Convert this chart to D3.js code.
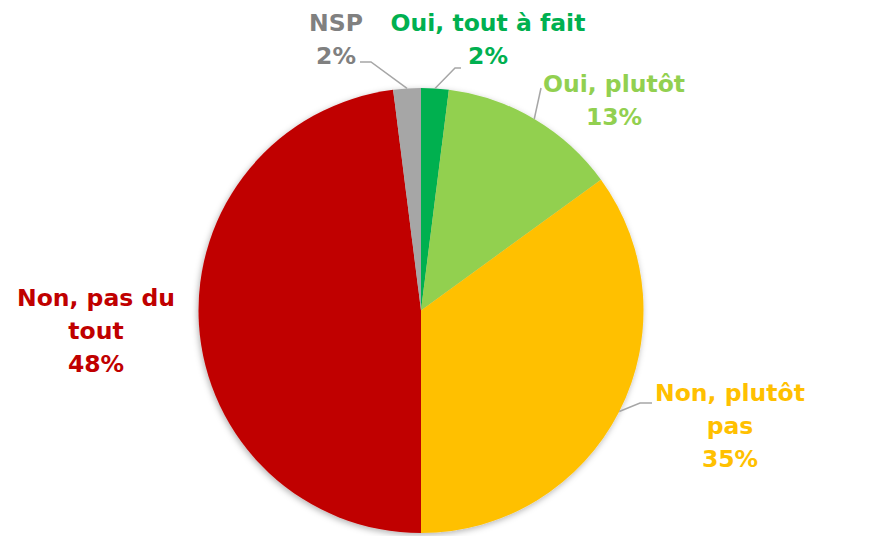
<!DOCTYPE html>
<html><head><meta charset="utf-8">
<script src="https://cdn.jsdelivr.net/npm/d3@7"></script>
<style>html,body{margin:0;padding:0;background:#fff;}svg{display:block;}</style>
</head><body>
<svg id="chart" width="893" height="536"></svg>
<script>
const categories = ["Oui, tout à fait", "Oui, plutôt", "Non, plutôt pas", "Non, pas du tout", "NSP"];
const values = [2, 13, 35, 48, 2];
const colors = ["#00B050", "#92D050", "#FFC000", "#C00000", "#A6A6A6"];
const textColors = ["#00B050", "#92D050", "#FFC000", "#C00000", "#808080"];
const labelLines = [["Oui, tout à fait"], ["Oui, plutôt"], ["Non, plutôt", "pas"], ["Non, pas du", "tout"], ["NSP"]];

// layout
const cx = 421, cy = 310.5, r = 222.5;
const labelPos = [{x:488,y:31},{x:614,y:92},{x:730,y:401},{x:96,y:306},{x:336,y:31}];
const elbows = [[[455,68],[461,68]], [[541,88]], [[640,403],[652,403]], null, [[371,62],[360,62]]];
const lineH = 33;

const svg = d3.select("#chart");
const defs = svg.append("defs");
const f = defs.append("filter").attr("id","sh").attr("x","-20%").attr("y","-20%").attr("width","140%").attr("height","140%");
f.append("feDropShadow").attr("dx",-1).attr("dy",2).attr("stdDeviation",3).attr("flood-color","#000").attr("flood-opacity",0.3);

const pie = d3.pie().sort(null).value(d => d)(values);
const arc = d3.arc().innerRadius(0).outerRadius(r);
const g = svg.append("g").attr("transform",`translate(${cx},${cy})`);
g.append("g").attr("filter","url(#sh)").selectAll("path").data(pie).join("path")
  .attr("d", arc).attr("fill",(d,i)=>colors[i]);

// leader lines
pie.forEach((d,i)=>{
  if(!elbows[i]) return;
  const a = (d.startAngle+d.endAngle)/2;
  const p0 = [cx + r*Math.sin(a), cy - r*Math.cos(a)];
  const pts = [p0, ...elbows[i]];
  svg.append("polyline").attr("points", pts.map(p=>p.join(",")).join(" "))
    .attr("fill","none").attr("stroke","#A6A6A6").attr("stroke-width",1.5);
});

// labels
pie.forEach((d,i)=>{
  const lines = [...labelLines[i], values[i] + "%"];
  const t = svg.append("text").attr("text-anchor","middle")
    .attr("font-family","'DejaVu Sans', sans-serif").attr("font-weight","bold")
    .attr("font-size",23.5).attr("fill",textColors[i]);
  lines.forEach((l,k)=>{
    t.append("tspan").attr("x",labelPos[i].x).attr("y",labelPos[i].y + k*lineH).text(l);
  });
});
</script>
</body></html>
